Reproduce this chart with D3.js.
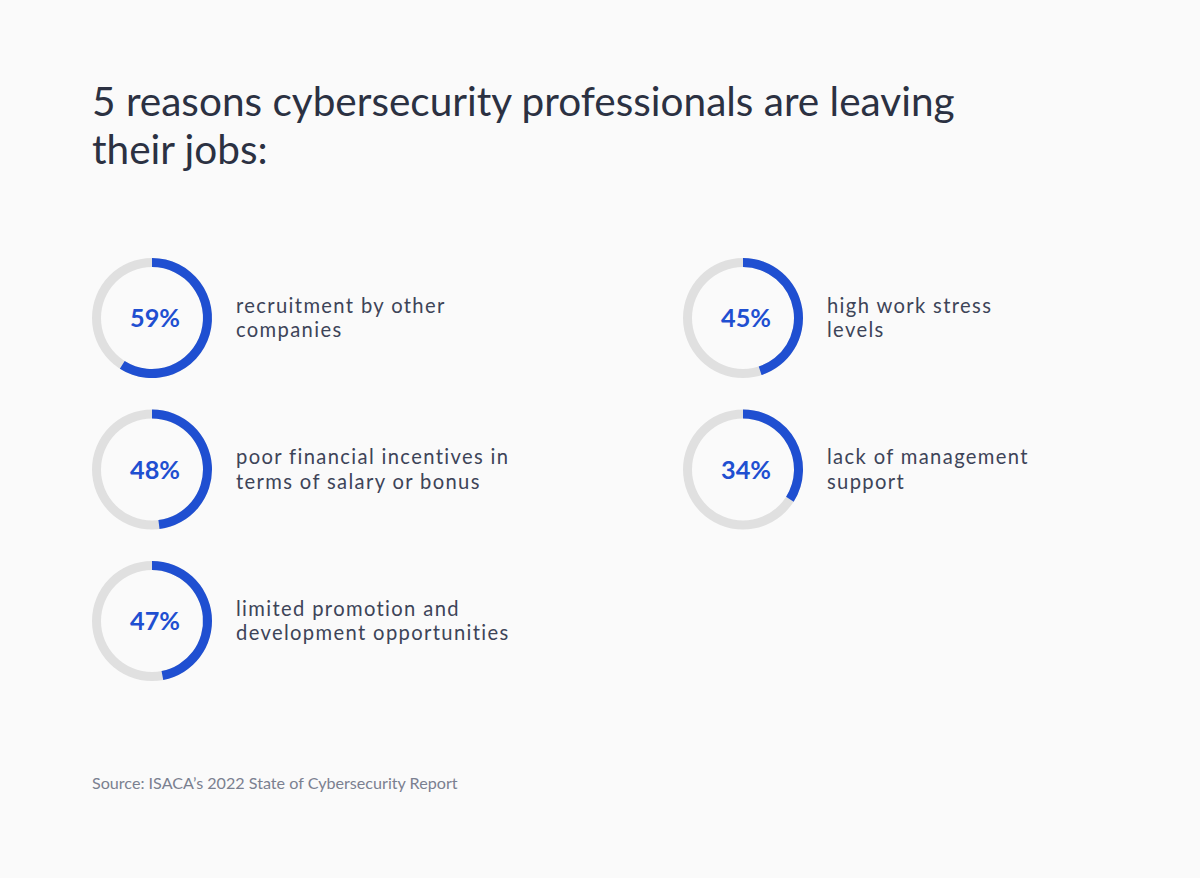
<!DOCTYPE html>
<html>
<head>
<meta charset="utf-8">
<script src="https://cdn.jsdelivr.net/npm/d3@7"></script>
<style>
  html, body { margin: 0; padding: 0; background: #fafafa; }
  svg { display: block; }
</style>
</head>
<body>
<svg id="chart" width="1200" height="878"></svg>
<script>
const titleLines = ["5 reasons cybersecurity professionals are leaving", "their jobs:"];
const values = [59, 48, 47, 45, 34];
const labels = [
  ["recruitment by other", "companies"],
  ["poor financial incentives in", "terms of salary or bonus"],
  ["limited promotion and", "development opportunities"],
  ["high work stress", "levels"],
  ["lack of management", "support"]
];
const columns = [0, 0, 0, 1, 1];
const rows = [0, 1, 2, 0, 1];
const source = "Source: ISACA\u2019s 2022 State of Cybersecurity Report";

const FONT = "Lato, 'Open Sans', sans-serif";
const svg = d3.select("#chart");
svg.append("rect").attr("width", 1200).attr("height", 878).attr("fill", "#fafafa");

function measure(text, size, weight) {
  const t = svg.append("text").attr("font-family", FONT).attr("font-size", size)
    .attr("font-weight", weight || 400).text(text);
  const w = t.node().getComputedTextLength();
  t.remove();
  return w;
}
// fit a font size so the given text reaches a target width
function fitSize(text, targetW, weight) {
  return 100 * targetW / measure(text, 100, weight);
}

// Title (one text element, two lines)
const titleSize = fitSize(titleLines[0], 863, 400);
svg.append("text")
  .attr("font-family", FONT).attr("font-size", titleSize).attr("fill", "#2b3142")
  .selectAll("tspan").data(titleLines).join("tspan")
  .attr("x", 92).attr("y", (d, i) => 116 + i * 48).text(d => d);

// Layout scales
const xCol = d3.scaleOrdinal().domain([0, 1]).range([152, 743]);
const yRow = d3.scaleLinear().domain([0, 2]).range([318, 621]);
const angle = d3.scaleLinear().domain([0, 100]).range([0, 2 * Math.PI]);

const outerR = 60, innerR = 51;
const arcGen = d3.arc().innerRadius(innerR).outerRadius(outerR).startAngle(0);

const labelSize = 20.2;
const refLabel = "development opportunities";
const labelSpacing = (274 - measure(refLabel, labelSize, 400)) / refLabel.length;
const pctSize = fitSize("59%", 50, 700);

const data = values.map((v, i) => ({ v, label: labels[i], col: columns[i], row: rows[i] }));

const g = svg.append("g").selectAll("g").data(data).join("g")
  .attr("transform", d => `translate(${xCol(d.col)},${yRow(d.row)})`);

g.append("path").attr("d", arcGen({ endAngle: 2 * Math.PI })).attr("fill", "#e0e0e0");
g.append("path").attr("d", d => arcGen({ endAngle: angle(d.v) })).attr("fill", "#1f4fd1");

g.append("text")
  .attr("text-anchor", "middle").attr("x", 3).attr("y", 9)
  .attr("font-family", FONT).attr("font-weight", 700).attr("font-size", pctSize)
  .attr("fill", "#1f4fd1").text(d => d.v + "%");

g.append("text")
  .attr("font-family", FONT).attr("font-size", labelSize).attr("fill", "#3d4458")
  .attr("letter-spacing", labelSpacing)
  .selectAll("tspan").data(d => d.label).join("tspan")
  .attr("x", 84).attr("y", (d, i) => -5.5 + i * 24.5).text(d => d);

// Source
const srcSize = fitSize(source, 366, 400);
svg.append("text").attr("x", 92).attr("y", 789)
  .attr("font-family", FONT).attr("font-size", srcSize)
  .attr("fill", "#7a8090").text(source);
</script>
</body>
</html>
